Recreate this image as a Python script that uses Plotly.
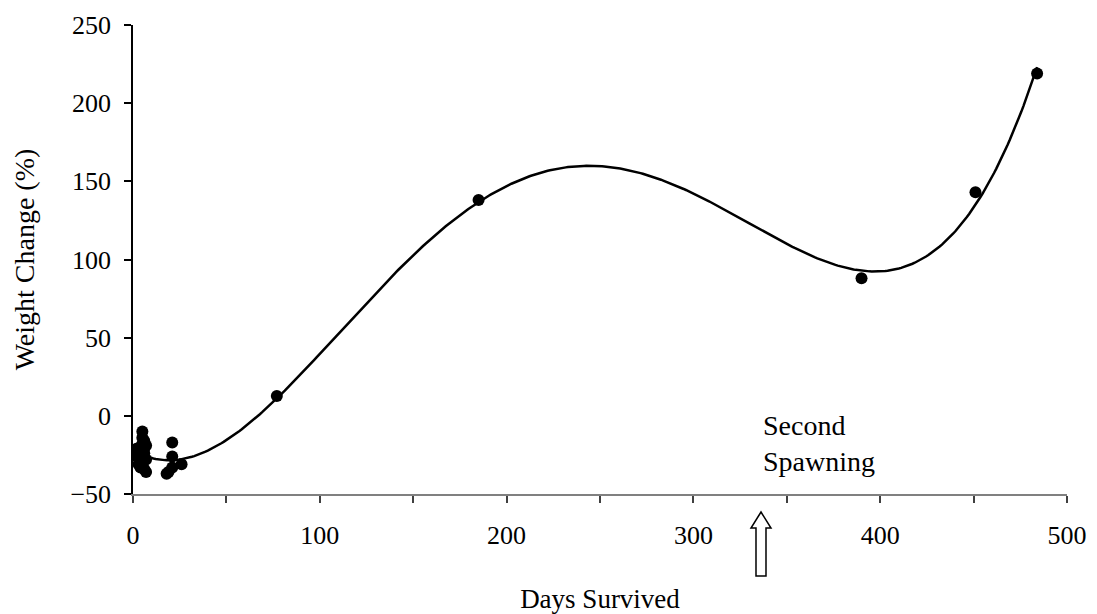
import numpy as np
import plotly.graph_objects as go

# Data
days = [1, 2, 2, 3, 3, 3, 4, 4, 4, 5, 5, 5, 5, 5, 5, 6, 6, 6, 6, 7, 7, 7,
        18, 19, 21, 21, 21, 26, 77, 185, 390, 451, 484]
weight_change = [-23, -24, -21, -27, -31, -22, -20, -33, -25, -10, -14, -18, -26, -29, -33,
                 -16, -21, -24, -34, -19, -28, -36,
                 -37, -36, -33, -17, -26, -31, 12.7, 138, 88, 143, 219]

x_tick_vals = [0, 50, 100, 150, 200, 250, 300, 350, 400, 450, 500]
x_tick_text = ["0", "", "100", "", "200", "", "300", "", "400", "", "500"]
y_tick_vals = [-50, 0, 50, 100, 150, 200, 250]

trend_order = 4

# Polynomial trendline fitted to the data (like a spreadsheet trendline)
coef = np.polyfit(days, weight_change, trend_order)
trend_x = np.linspace(0, max(days), 400)
trend_y = np.polyval(coef, trend_x)

font_family = "Liberation Serif, Times New Roman, serif"

fig = go.Figure()
fig.add_trace(go.Scatter(x=trend_x, y=trend_y, mode="lines",
                         line=dict(color="black", width=2.5), showlegend=False,
                         hoverinfo="skip"))
fig.add_trace(go.Scatter(x=days, y=weight_change, mode="markers",
                         marker=dict(color="black", size=12), showlegend=False))

fig.update_layout(
    width=1097, height=614,
    margin=dict(l=133, r=30, t=25, b=120),
    paper_bgcolor="white", plot_bgcolor="white",
    font=dict(family=font_family, size=26, color="black"),
    xaxis=dict(range=[0, 500], tickmode="array", tickvals=x_tick_vals, ticktext=x_tick_text,
               showgrid=False, zeroline=False, showline=True, linecolor="#808080", linewidth=2,
               ticks="outside", ticklen=7, tickcolor="#404040", tickwidth=1.5,
               ticklabelstandoff=10, automargin=False,
               tickfont=dict(size=26), title=dict(text="Days Survived", standoff=46,
                                                   font=dict(size=27))),
    yaxis=dict(range=[-50, 250], tickmode="array", tickvals=y_tick_vals,
               showgrid=False, zeroline=False, showline=True, linecolor="black", linewidth=1.5,
               ticks="outside", ticklen=7, tickcolor="black", tickwidth=1.5,
               ticklabelstandoff=8, automargin=False,
               tickfont=dict(size=26), title=dict(text="Weight Change (%)", standoff=28,
                                                   font=dict(size=28))),
)

fig.add_annotation(x=336, y=-18, xref="x", yref="y", text="Second<br>Spawning",
                   showarrow=False, xanchor="left", yanchor="middle", align="left",
                   font=dict(size=28, family=font_family))

# Hollow up arrow below the x axis (paper coordinates)
def px_to_paper_x(px):
    return (px - 133) / (1097 - 133 - 30)

def py_to_paper_y(py):
    return (614 - 120 - py) / (614 - 120 - 25)

cx = 761
pts = [(cx, 512), (cx + 10, 528), (cx + 5, 528), (cx + 5, 576), (cx - 5, 576),
       (cx - 5, 528), (cx - 10, 528)]
path = "M " + " L ".join(f"{px_to_paper_x(a):.5f},{py_to_paper_y(b):.5f}" for a, b in pts) + " Z"
fig.add_shape(type="path", path=path, xref="paper", yref="paper",
              line=dict(color="black", width=1.5), fillcolor="white")

fig.write_html("out.html", config={"displayModeBar": False},
               post_script="document.body.style.margin='0px';")
